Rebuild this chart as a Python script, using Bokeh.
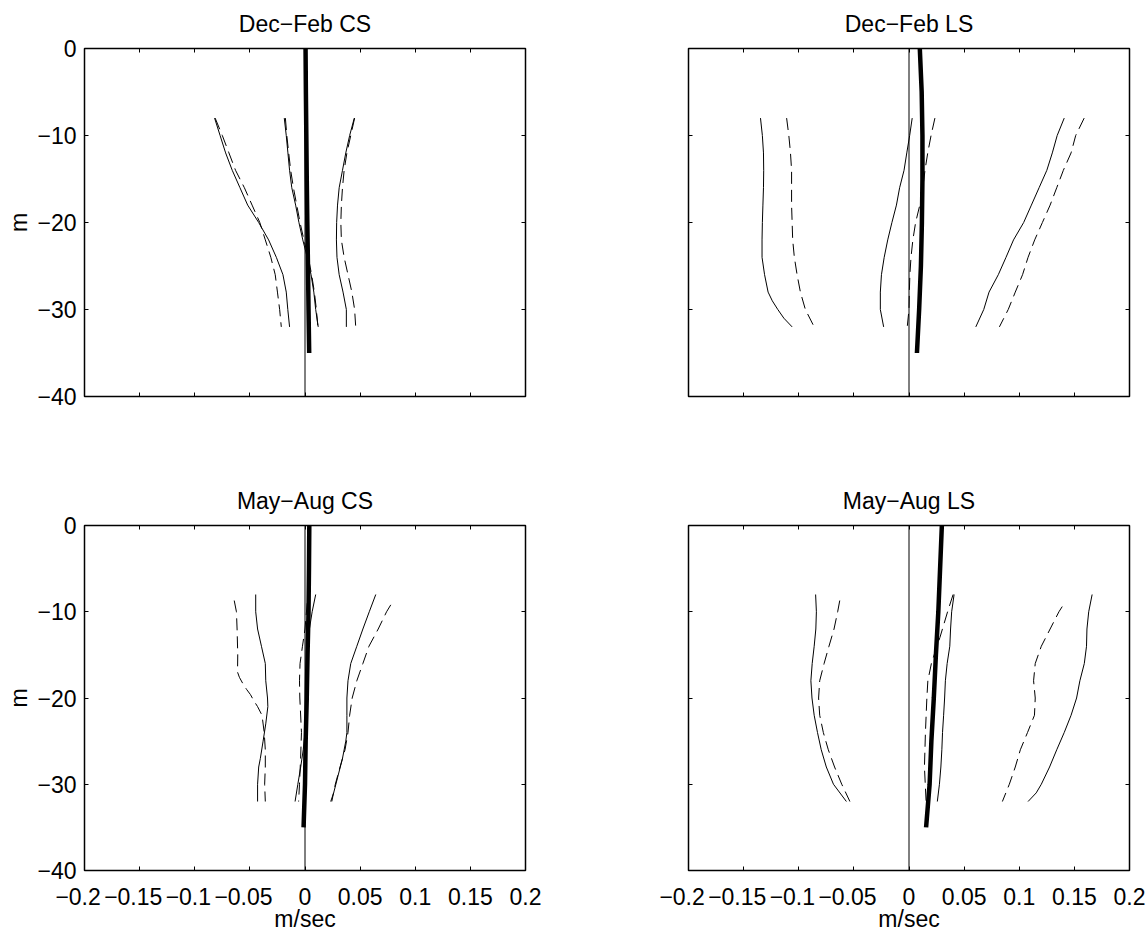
from bokeh.plotting import figure
from bokeh.layouts import column, row
from bokeh.models import FixedTicker, LinearAxis, Range1d
from bokeh.embed import file_html
from bokeh.resources import INLINE

# ---------------- data ----------------
titles = ["Dec\u2212Feb CS", "Dec\u2212Feb LS", "May\u2212Aug CS", "May\u2212Aug LS"]
x_ticks = [-0.2, -0.15, -0.1, -0.05, 0, 0.05, 0.1, 0.15, 0.2]
# negative labels are centred on their number (not on the minus sign), as in the reference
x_tick_labels = ["\u22120.2\u2007", "\u22120.15\u2007", "\u22120.1\u2007", "\u22120.05\u2007", "0", "0.05", "0.1", "0.15", "0.2"]
y_ticks = [0, -10, -20, -30, -40]
y_tick_labels = ["0", "\u221210", "\u221220", "\u221230", "\u221240"]
x_label = "m/sec"
y_label = "m"

zero_line_depth = [0, -40]
mean_depth = [0, -5, -10, -15, -20, -25, -30, -35]
grid_depth = [-8, -10, -12, -14, -16, -18, -20, -22, -24, -26, -28, -30, -32]

# Dec-Feb CS
djf_cs_mean = [0.0005, 0.0008, 0.0012, 0.0016, 0.0021, 0.0027, 0.0032, 0.0038]
djf_cs_lo_solid = [-0.082, -0.077, -0.072, -0.066, -0.059, -0.052, -0.042, -0.033, -0.026, -0.020, -0.017, -0.0156, -0.014]
djf_cs_lo_dash = [-0.0815, -0.075, -0.069, -0.063, -0.055, -0.048, -0.041, -0.036, -0.031, -0.027, -0.025, -0.023, -0.0215]
djf_cs_mid_solid = [-0.0188, -0.017, -0.0155, -0.014, -0.012, -0.0085, -0.0055, -0.002, 0.002, 0.0055, 0.008, 0.0097, 0.012]
djf_cs_mid_dash = [-0.0178, -0.0165, -0.0148, -0.013, -0.0105, -0.0075, -0.0045, -0.001, 0.003, 0.006, 0.0085, 0.0103, 0.0117]
djf_cs_hi_solid = [0.0447, 0.0405, 0.037, 0.034, 0.031, 0.0295, 0.0287, 0.0285, 0.029, 0.031, 0.0345, 0.0375, 0.0375]
djf_cs_hi_dash = [0.045, 0.0415, 0.038, 0.0355, 0.034, 0.033, 0.0325, 0.033, 0.0355, 0.039, 0.0425, 0.045, 0.046]

# Dec-Feb LS
djf_ls_mean = [0.0098, 0.0115, 0.0122, 0.0122, 0.0117, 0.0108, 0.0092, 0.0072]
djf_ls_lo_solid_depth = [-8, -10, -12, -14, -16, -18, -20, -22, -24, -26, -28, -29, -30, -31, -32]
djf_ls_lo_solid = [-0.1347, -0.133, -0.132, -0.1318, -0.132, -0.1325, -0.133, -0.1333, -0.1333, -0.131, -0.1278, -0.124, -0.119, -0.1135, -0.106]
djf_ls_lo_dash = [-0.111, -0.109, -0.1075, -0.1065, -0.1065, -0.1065, -0.106, -0.1055, -0.104, -0.1015, -0.0985, -0.094, -0.086]
djf_ls_mid_solid = [0.0029, 0.0006, -0.002, -0.0045, -0.0085, -0.0114, -0.0155, -0.0193, -0.0225, -0.025, -0.026, -0.026, -0.023]
djf_ls_mid_dash = [0.0235, 0.020, 0.017, 0.0145, 0.0125, 0.0098, 0.006, 0.0035, 0.0018, 0.0008, 0.0003, 0.0, -0.0016]
djf_ls_hi_solid = [0.1408, 0.1344, 0.130, 0.125, 0.118, 0.111, 0.104, 0.0948, 0.088, 0.081, 0.0726, 0.0678, 0.0606]
djf_ls_hi_dash = [0.1589, 0.1512, 0.147, 0.140, 0.134, 0.128, 0.121, 0.114, 0.108, 0.103, 0.0964, 0.090, 0.082]

# May-Aug CS
jja_cs_mean = [0.0039, 0.0036, 0.0032, 0.0023, 0.0016, 0.0006, 0.0, -0.0013]
jja_cs_lo_solid_depth = [-8, -10, -12, -14, -16, -18, -20, -21, -23, -25, -27, -28, -30, -32]
jja_cs_lo_solid = [-0.0447, -0.0447, -0.043, -0.0395, -0.036, -0.0356, -0.034, -0.0337, -0.0356, -0.038, -0.0405, -0.042, -0.043, -0.043]
jja_cs_lo_dash_depth = [-8.7, -10, -12, -15, -17, -17.6, -18.3, -19, -19.6, -20.3, -21, -22, -24, -26, -28, -30, -32]
jja_cs_lo_dash = [-0.0642, -0.0622, -0.0616, -0.061, -0.0612, -0.0595, -0.0565, -0.053, -0.0495, -0.0465, -0.043, -0.039, -0.037, -0.036, -0.036, -0.0366, -0.036]
jja_cs_mid_solid_depth = [-8, -10, -12, -15, -20, -24, -26, -28, -30, -32]
jja_cs_mid_solid = [0.0097, 0.0065, 0.004, 0.002, 0.001, 0.0, -0.0016, -0.0039, -0.0065, -0.009]
jja_cs_mid_dash_depth = [-9, -12, -14, -16, -18, -20, -24, -27, -30, -32]
jja_cs_mid_dash = [0.002, 0.0, -0.0023, -0.0045, -0.005, -0.0047, -0.0032, -0.004, -0.005, -0.0058]
jja_cs_hi_solid_depth = [-8, -10, -12, -14, -16, -18, -20, -22, -24, -25, -27, -29, -31, -32]
jja_cs_hi_solid = [0.0642, 0.0583, 0.0525, 0.047, 0.0415, 0.039, 0.038, 0.038, 0.038, 0.037, 0.034, 0.030, 0.026, 0.0233]
jja_cs_hi_dash_depth = [-9.2, -10, -12, -14, -16, -18, -20, -22, -24, -26, -28, -30, -32]
jja_cs_hi_dash = [0.0778, 0.074, 0.0664, 0.058, 0.0525, 0.047, 0.0428, 0.0405, 0.039, 0.0363, 0.0318, 0.0275, 0.0243]

# May-Aug LS
jja_ls_mean = [0.0298, 0.0282, 0.0266, 0.0244, 0.0225, 0.0203, 0.0187, 0.0155]
jja_ls_lo_solid = [-0.0847, -0.084, -0.0845, -0.086, -0.0878, -0.089, -0.088, -0.086, -0.083, -0.0796, -0.075, -0.0685, -0.0568]
jja_ls_lo_dash_depth = [-8.7, -10, -12, -14, -16, -18, -20, -22, -24, -26, -28, -30, -32]
jja_ls_lo_dash = [-0.0628, -0.0647, -0.068, -0.0726, -0.077, -0.081, -0.082, -0.081, -0.0777, -0.0732, -0.0675, -0.061, -0.0536]
jja_ls_mid_solid = [0.0409, 0.0387, 0.0377, 0.037, 0.0346, 0.033, 0.0323, 0.0314, 0.0304, 0.0298, 0.0289, 0.0276, 0.0257]
jja_ls_mid_dash_depth = [-8, -10, -13, -16, -18, -20, -24, -28, -32]
jja_ls_mid_dash = [0.040, 0.035, 0.028, 0.0203, 0.0171, 0.0162, 0.0149, 0.014, 0.0155]
jja_ls_hi_solid_depth = [-8, -10, -12, -14, -16, -18, -20, -22, -24, -26, -28, -30, -31, -32]
jja_ls_hi_solid = [0.1661, 0.163, 0.1614, 0.161, 0.159, 0.155, 0.152, 0.147, 0.1408, 0.134, 0.1275, 0.120, 0.1154, 0.108]
jja_ls_hi_dash_depth = [-9.4, -10, -12, -14, -16, -18, -20, -22, -24, -26, -28, -30, -32]
jja_ls_hi_dash = [0.139, 0.136, 0.128, 0.120, 0.1145, 0.113, 0.1145, 0.1138, 0.1075, 0.101, 0.0964, 0.091, 0.0847]

panels = [
    dict(mean=djf_cs_mean, solid=[(grid_depth, djf_cs_lo_solid), (grid_depth, djf_cs_mid_solid), (grid_depth, djf_cs_hi_solid)],
         dash=[(grid_depth, djf_cs_lo_dash), (grid_depth, djf_cs_mid_dash), (grid_depth, djf_cs_hi_dash)]),
    dict(mean=djf_ls_mean, solid=[(djf_ls_lo_solid_depth, djf_ls_lo_solid), (grid_depth, djf_ls_mid_solid), (grid_depth, djf_ls_hi_solid)],
         dash=[(grid_depth, djf_ls_lo_dash), (grid_depth, djf_ls_mid_dash), (grid_depth, djf_ls_hi_dash)]),
    dict(mean=jja_cs_mean, solid=[(jja_cs_lo_solid_depth, jja_cs_lo_solid), (jja_cs_mid_solid_depth, jja_cs_mid_solid), (jja_cs_hi_solid_depth, jja_cs_hi_solid)],
         dash=[(jja_cs_lo_dash_depth, jja_cs_lo_dash), (jja_cs_mid_dash_depth, jja_cs_mid_dash), (jja_cs_hi_dash_depth, jja_cs_hi_dash)]),
    dict(mean=jja_ls_mean, solid=[(grid_depth, jja_ls_lo_solid), (grid_depth, jja_ls_mid_solid), (jja_ls_hi_solid_depth, jja_ls_hi_solid)],
         dash=[(jja_ls_lo_dash_depth, jja_ls_lo_dash), (jja_ls_mid_dash_depth, jja_ls_mid_dash), (jja_ls_hi_dash_depth, jja_ls_hi_dash)]),
]

# ---------------- style ----------------
FONT = "Liberation Sans"
FS = "23px"


def base_axis(ax):
    ax.major_tick_in = 4
    ax.major_tick_out = 0
    ax.minor_tick_in = 0
    ax.minor_tick_out = 0
    ax.axis_line_color = None
    ax.major_tick_line_color = "black"
    ax.major_tick_line_width = 1
    ax.major_label_text_font = FONT
    ax.axis_label_text_font = FONT
    ax.axis_label_text_font_size = FS
    ax.axis_label_text_font_style = "normal"
    ax.axis_label_text_color = "black"


def show_labels(ax, standoff):
    ax.major_label_text_font_size = FS
    ax.major_label_text_color = "black"
    ax.major_label_standoff = standoff


def hide_labels(ax):
    ax.major_label_text_font_size = "1px"
    ax.major_label_text_color = None
    ax.major_label_standoff = 0


def make_panel(i, width, height, bl, br, bt, bb, show_x, show_y):
    p = figure(width=width, height=height, output_backend="svg", toolbar_location=None,
               x_range=Range1d(-0.2, 0.2), y_range=Range1d(-40, 0),
               min_border_left=bl, min_border_right=br, min_border_top=bt, min_border_bottom=bb,
               x_axis_type=None, y_axis_type=None, title=None)
    p.grid.visible = False
    p.outline_line_color = "black"
    p.outline_line_width = 1.5
    p.background_fill_color = "white"
    p.border_fill_color = "white"

    xover = {t: l for t, l in zip(x_ticks, x_tick_labels)}
    yover = {t: l for t, l in zip(y_ticks, y_tick_labels)}

    # bottom x axis
    ax = LinearAxis(ticker=FixedTicker(ticks=x_ticks), major_label_overrides=xover)
    base_axis(ax)
    if show_x:
        show_labels(ax, 13)
        ax.axis_label = x_label
        ax.axis_label_standoff = -7
    else:
        hide_labels(ax)
    p.add_layout(ax, "below")

    # top x axis carries the panel title
    ax = LinearAxis(ticker=FixedTicker(ticks=x_ticks))
    base_axis(ax)
    hide_labels(ax)
    ax.axis_label = titles[i]
    ax.axis_label_standoff = 12
    p.add_layout(ax, "above")

    # left y axis
    ax = LinearAxis(ticker=FixedTicker(ticks=y_ticks), major_label_overrides=yover)
    base_axis(ax)
    if show_y:
        show_labels(ax, 8)
        ax.axis_label = y_label
        ax.axis_label_standoff = 2
    else:
        hide_labels(ax)
    p.add_layout(ax, "left")

    # right y axis (ticks only)
    ax = LinearAxis(ticker=FixedTicker(ticks=y_ticks))
    base_axis(ax)
    hide_labels(ax)
    p.add_layout(ax, "right")

    d = panels[i]
    p.line([0, 0], zero_line_depth, line_color="black", line_width=1)
    for dep, xs in d["solid"]:
        p.line(xs, dep, line_color="black", line_width=1)
    for dep, xs in d["dash"]:
        p.line(xs, dep, line_color="black", line_width=1, line_dash="12 6")
    p.line(d["mean"], mean_depth, line_color="black", line_width=4.5)
    return p


p1 = make_panel(0, 600, 460, 84, 75, 48, 64, False, True)
p2 = make_panel(1, 548, 460, 88, 19, 48, 64, False, False)
p3 = make_panel(2, 600, 474, 84, 75, 65, 61, True, True)
p4 = make_panel(3, 548, 474, 88, 19, 65, 61, True, False)

layout = column(row(p1, p2), row(p3, p4))
open("out.html", "w").write(file_html(layout, INLINE))
